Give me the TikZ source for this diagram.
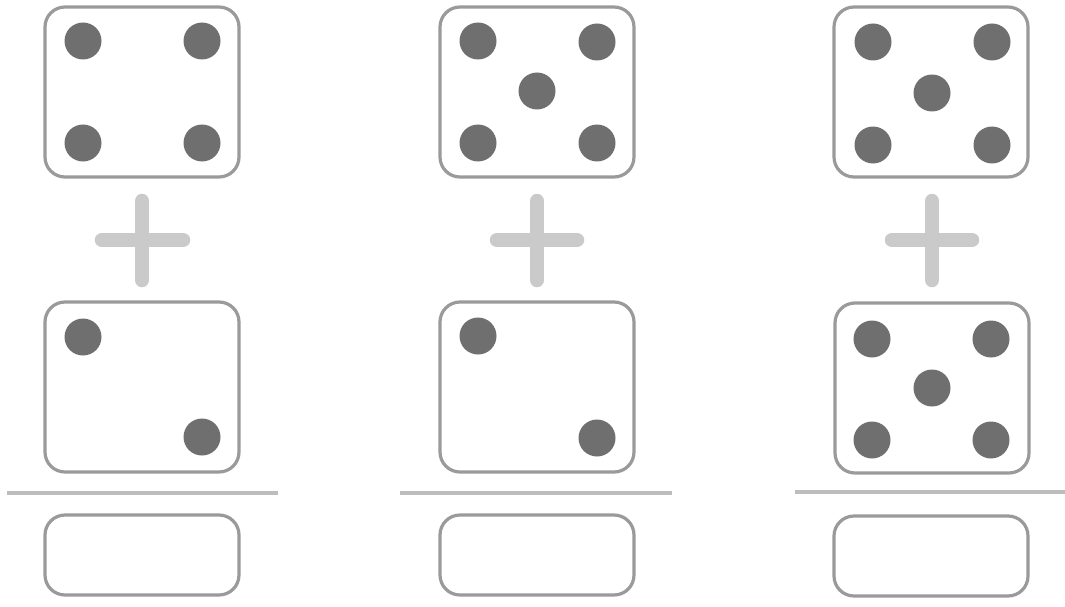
\documentclass[tikz,border=0pt]{standalone}
\begin{document}
\begin{tikzpicture}[x=1pt,y=-1pt,
  diebox/.style={draw=boxgray, line width=3.2pt, rounded corners=20pt, inner sep=0pt, outer sep=0pt, fill=white},
  pip/.style={circle, fill=pipgray, minimum size=37pt, inner sep=0pt, outer sep=0pt},
  plusbar/.style={draw=plusgray, line width=14.5pt, line cap=round},
  sumline/.style={draw=linegray, line width=4pt}]
\definecolor{boxgray}{HTML}{9A9A9A}
\definecolor{pipgray}{HTML}{6F6F6F}
\definecolor{plusgray}{HTML}{CACACA}
\definecolor{linegray}{HTML}{BDBDBD}
\useasboundingbox (0,0) rectangle (1065,607);
\fill[white] (0,0) rectangle (1065,607);
% column 1
\node[diebox, minimum width=194pt, minimum height=170pt] (t1) at (142,92) {};
\node[pip] (t1a) at (83,41) {};
\node[pip] (t1b) at (202,41) {};
\node[pip] (t1c) at (83,143) {};
\node[pip] (t1d) at (202,143) {};
\coordinate (p1l) at (102,240); \coordinate (p1r) at (183,240);
\coordinate (p1t) at (142,201); \coordinate (p1b) at (142,280);
\draw[plusbar] (p1l) -- (p1r);
\draw[plusbar] (p1t) -- (p1b);
\node[diebox, minimum width=194pt, minimum height=170pt] (b1) at (142,387) {};
\node[pip] (b1a) at (83,337) {};
\node[pip] (b1b) at (202,437) {};
\coordinate (l1l) at (7,493); \coordinate (l1r) at (278,493);
\draw[sumline] (l1l) -- (l1r);
\node[diebox, minimum width=194pt, minimum height=80pt] (a1) at (142,555) {};
% column 2
\node[diebox, minimum width=194pt, minimum height=170pt] (t2) at (537,92) {};
\node[pip] (t2a) at (478,41) {};
\node[pip] (t2b) at (597,42) {};
\node[pip] (t2c) at (537,91) {};
\node[pip] (t2d) at (478,143) {};
\node[pip] (t2e) at (597,143) {};
\coordinate (p2l) at (497,240); \coordinate (p2r) at (577,240);
\coordinate (p2t) at (537,201); \coordinate (p2b) at (537,280);
\draw[plusbar] (p2l) -- (p2r);
\draw[plusbar] (p2t) -- (p2b);
\node[diebox, minimum width=194pt, minimum height=170pt] (b2) at (537,387) {};
\node[pip] (b2a) at (478,336) {};
\node[pip] (b2b) at (597,438) {};
\coordinate (l2l) at (400,493); \coordinate (l2r) at (672,493);
\draw[sumline] (l2l) -- (l2r);
\node[diebox, minimum width=194pt, minimum height=80pt] (a2) at (537,555) {};
% column 3
\node[diebox, minimum width=194pt, minimum height=170pt] (t3) at (931,92) {};
\node[pip] (t3a) at (873,42) {};
\node[pip] (t3b) at (992,42) {};
\node[pip] (t3c) at (932,93) {};
\node[pip] (t3d) at (873,145) {};
\node[pip] (t3e) at (992,145) {};
\coordinate (p3l) at (892,240); \coordinate (p3r) at (972,240);
\coordinate (p3t) at (932,201); \coordinate (p3b) at (932,280);
\draw[plusbar] (p3l) -- (p3r);
\draw[plusbar] (p3t) -- (p3b);
\node[diebox, minimum width=194pt, minimum height=170pt] (b3) at (932,388) {};
\node[pip] (b3a) at (872,339) {};
\node[pip] (b3b) at (991,339) {};
\node[pip] (b3c) at (932,388) {};
\node[pip] (b3d) at (872,440) {};
\node[pip] (b3e) at (991,440) {};
\coordinate (l3l) at (795,492); \coordinate (l3r) at (1065,492);
\draw[sumline] (l3l) -- (l3r);
\node[diebox, minimum width=194pt, minimum height=80pt] (a3) at (931,556) {};
\end{tikzpicture}
\end{document}
